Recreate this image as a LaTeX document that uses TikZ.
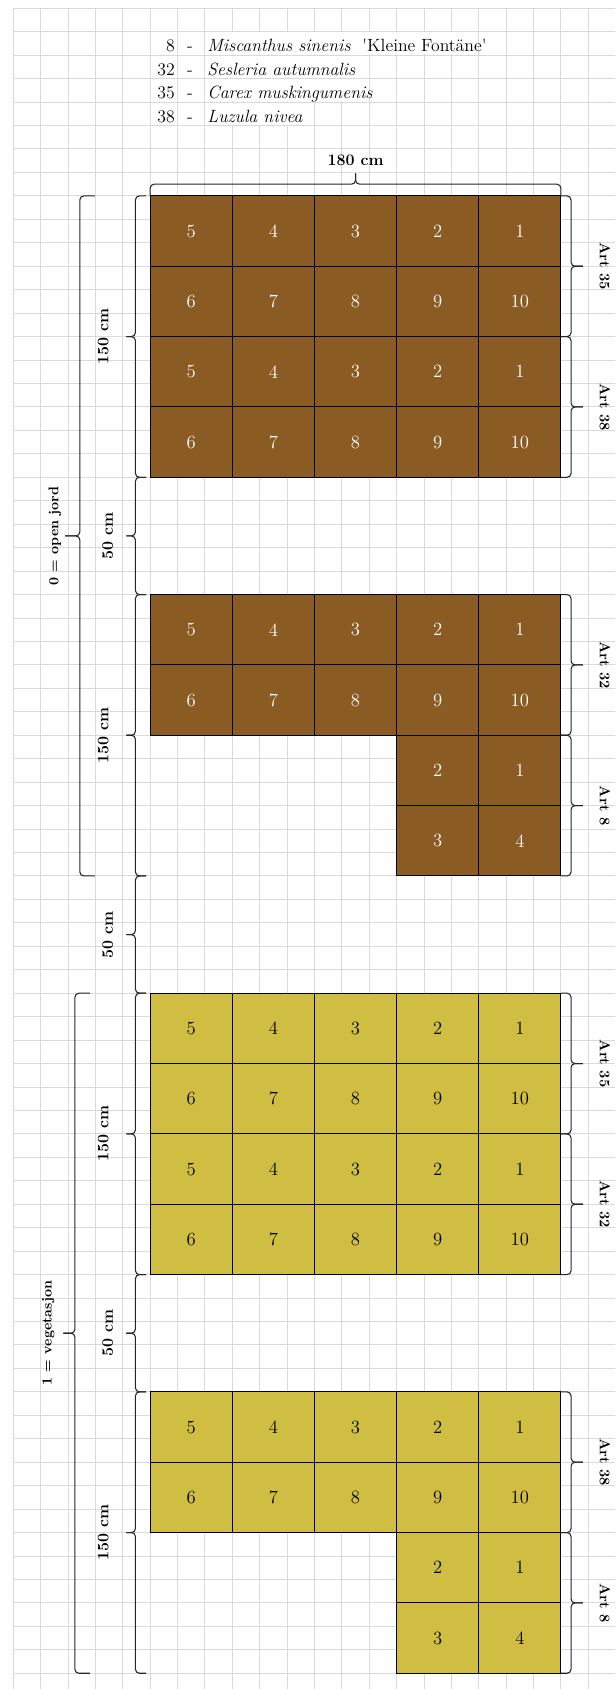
\documentclass[tikz,border=0pt]{standalone}
\usepackage{tikz}
\usetikzlibrary{positioning}

\definecolor{soilbrown}{RGB}{138,91,34}
\definecolor{vegyellow}{RGB}{208,190,66}
\definecolor{gridgray}{RGB}{217,217,217}

% vertical brace: end x, spine x, tip x, top row, bottom row
\newcommand{\vbrace}[5]{%
	\draw[bracestroke] (#1,#4) -- (#2,#4) -- (#2,{(#4+#5)/2}) -- (#3,{(#4+#5)/2});
	\draw[bracestroke] (#3,{(#4+#5)/2}) -- (#2,{(#4+#5)/2}) -- (#2,#5) -- (#1,#5);
}
% horizontal brace: end y, spine y, tip y, left col, right col
\newcommand{\hbrace}[5]{%
	\draw[bracestroke] (#4,#1) -- (#4,#2) -- ({(#4+#5)/2},#2) -- ({(#4+#5)/2},#3);
	\draw[bracestroke] ({(#4+#5)/2},#3) -- ({(#4+#5)/2},#2) -- (#5,#2) -- (#5,#1);
}

\begin{document}
\begin{tikzpicture}[
		x=20.535pt, y=-17.5875pt,
		gridline/.style={draw=gridgray, line width=0.75pt},
		plotcell/.style={
				draw=black,
				line width=0.8pt,
				minimum width=61.6pt,
				minimum height=52.76pt,
				inner sep=0pt,
				font=\fontsize{14}{16}\selectfont
			},
		listtext/.style={inner sep=0pt, font=\fontsize{13.3}{15}\selectfont},
		dimlabel/.style={inner sep=0pt, font=\bfseries\fontsize{12}{14}\selectfont},
		artlabel/.style={inner sep=0pt, rotate=-90, font=\bfseries\fontsize{11}{13}\selectfont},
		grouplabel/.style={inner sep=0pt, rotate=90, font=\bfseries\fontsize{10.5}{12}\selectfont},
		bracestroke/.style={draw=black!85, line width=0.8pt, rounded corners=3pt}
	]
	\fill[white] (-0.486,-0.354) rectangle (21.976,71.672);
	\useasboundingbox (-0.486,-0.354) rectangle (21.976,71.672);

	% sheet grid
	\foreach \c in {0,...,21}
		\draw[gridline] (\c,0) -- (\c,71.672);
	\foreach \r in {0,...,71}
		\draw[gridline] (0,\r) -- (21.976,\r);

	% overflowing text hides the grid
	\fill[white] (7.03,1.03) rectangle (16.97,1.97);
	\fill[white] (7.03,2.03) rectangle (12.97,2.97);
	\fill[white] (7.03,3.03) rectangle (12.97,3.97);
	\fill[white] (7.03,4.03) rectangle (10.97,4.97);

	% species list
	\node[listtext, anchor=base east] (num8) at (5.91,1.85) {8};
	\node[listtext, anchor=base] (dash8) at (6.45,1.85) {-};
	\node[listtext, anchor=base west] (sp8) at (7.08,1.85)
	{\textit{Miscanthus sinenis}\ \ \textquotesingle Kleine Fontäne\textquotesingle};

	\node[listtext, anchor=base east] (num32) at (5.91,2.85) {32};
	\node[listtext, anchor=base] (dash32) at (6.45,2.85) {-};
	\node[listtext, anchor=base west] (sp32) at (7.08,2.85) {\textit{Sesleria autumnalis}};

	\node[listtext, anchor=base east] (num35) at (5.91,3.85) {35};
	\node[listtext, anchor=base] (dash35) at (6.45,3.85) {-};
	\node[listtext, anchor=base west] (sp35) at (7.08,3.85) {\textit{Carex muskingumenis}};

	\node[listtext, anchor=base east] (num38) at (5.91,4.85) {38};
	\node[listtext, anchor=base] (dash38) at (6.45,4.85) {-};
	\node[listtext, anchor=base west] (sp38) at (7.08,4.85) {\textit{Luzula nivea}};

	% plots, two upper rows of every block
	\foreach \blk/\top/\fl/\tx in {a/8/soilbrown/white, b/25/soilbrown/white,
			c/42/vegyellow/black, d/59/vegyellow/black} {
			\foreach \n [count=\i from 0] in {5,4,3,2,1}
				\node[plotcell, fill=\fl, text=\tx] (\blk-r1-\n) at ({6.5+3*\i},{\top+1.5}) {\n};
			\foreach \n [count=\i from 0] in {6,7,8,9,10}
				\node[plotcell, fill=\fl, text=\tx] (\blk-r2-\n) at ({6.5+3*\i},{\top+4.5}) {\n};
		}
	% full blocks
	\foreach \blk/\top/\fl/\tx in {a/8/soilbrown/white, c/42/vegyellow/black} {
			\foreach \n [count=\i from 0] in {5,4,3,2,1}
				\node[plotcell, fill=\fl, text=\tx] (\blk-r3-\n) at ({6.5+3*\i},{\top+7.5}) {\n};
			\foreach \n [count=\i from 0] in {6,7,8,9,10}
				\node[plotcell, fill=\fl, text=\tx] (\blk-r4-\n) at ({6.5+3*\i},{\top+10.5}) {\n};
		}
	% Art 8 corner
	\foreach \blk/\top/\fl/\tx in {b/25/soilbrown/white, d/59/vegyellow/black} {
			\node[plotcell, fill=\fl, text=\tx] (\blk-r3-2) at (15.5,{\top+7.5}) {2};
			\node[plotcell, fill=\fl, text=\tx] (\blk-r3-1) at (18.5,{\top+7.5}) {1};
			\node[plotcell, fill=\fl, text=\tx] (\blk-r4-3) at (15.5,{\top+10.5}) {3};
			\node[plotcell, fill=\fl, text=\tx] (\blk-r4-4) at (18.5,{\top+10.5}) {4};
		}

	% width
	\hbrace{8}{7.5}{7.04}{5}{20}
	\node[dimlabel] (width) at (12.5,6.5) {180 cm};

	% lengths and gaps
	\vbrace{4.85}{4.46}{4.13}{8}{20}
	\node[dimlabel, rotate=90] (len-a) at (3.28,14) {150 cm};
	\vbrace{4.85}{4.46}{4.13}{20}{25}
	\node[dimlabel, rotate=90] (gap-ab) at (3.45,22.5) {50 cm};
	\vbrace{4.85}{4.46}{4.13}{25}{37}
	\node[dimlabel, rotate=90] (len-b) at (3.28,31) {150 cm};
	\vbrace{4.85}{4.46}{4.13}{37}{42}
	\node[dimlabel, rotate=90] (gap-bc) at (3.45,39.5) {50 cm};
	\vbrace{4.85}{4.46}{4.13}{42}{54}
	\node[dimlabel, rotate=90] (len-c) at (3.28,48) {150 cm};
	\vbrace{4.85}{4.46}{4.13}{54}{59}
	\node[dimlabel, rotate=90] (gap-cd) at (3.45,56.5) {50 cm};
	\vbrace{4.85}{4.46}{4.13}{59}{71}
	\node[dimlabel, rotate=90] (len-d) at (3.28,65) {150 cm};

	% treatments
	\vbrace{2.98}{2.43}{1.89}{8}{37}
	\node[grouplabel] (open) at (1.52,22.5) {0 = open jord};
	\vbrace{2.8}{2.25}{1.83}{42}{71}
	\node[grouplabel] (veget) at (1.28,56.5) {1 = vegetasjon};

	% species per row pair
	\vbrace{20}{20.37}{20.8}{8}{14}
	\node[artlabel] (art-a1) at (21.61,11) {Art 35};
	\vbrace{20}{20.37}{20.8}{14}{20}
	\node[artlabel] (art-a2) at (21.61,17) {Art 38};
	\vbrace{20}{20.37}{20.8}{25}{31}
	\node[artlabel] (art-b1) at (21.61,28) {Art 32};
	\vbrace{20}{20.37}{20.8}{31}{37}
	\node[artlabel] (art-b2) at (21.61,34) {Art 8};
	\vbrace{20}{20.37}{20.8}{42}{48}
	\node[artlabel] (art-c1) at (21.61,45) {Art 35};
	\vbrace{20}{20.37}{20.8}{48}{54}
	\node[artlabel] (art-c2) at (21.61,51) {Art 32};
	\vbrace{20}{20.37}{20.8}{59}{65}
	\node[artlabel] (art-d1) at (21.61,62) {Art 38};
	\vbrace{20}{20.37}{20.8}{65}{71}
	\node[artlabel] (art-d2) at (21.61,68) {Art 8};

\end{tikzpicture}
\end{document}
